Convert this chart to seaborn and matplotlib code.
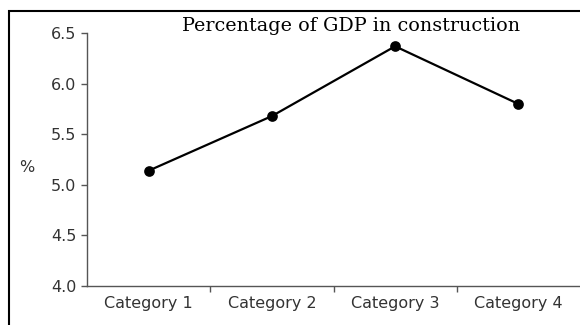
import seaborn as sns
import matplotlib.pyplot as plt
import pandas as pd
from matplotlib.patches import Rectangle

# dados
categorias = ["Category 1", "Category 2", "Category 3", "Category 4"]
valores = [5.14, 5.68, 6.37, 5.80]
titulo = "Percentage of GDP in construction"

dados = pd.DataFrame({"Categoria": categorias, "Valor": valores})

sns.set_style("ticks")
plt.rcParams['font.family'] = ['DejaVu Sans']

fig = plt.figure(figsize=(5.8, 3.25), dpi=100)
ax = fig.add_axes([0.150, 0.12, 0.850, 0.778])

sns.pointplot(data=dados, x="Categoria", y="Valor", color="black",
              markers="o", markersize=6.5, linewidth=1.6, ax=ax)

ax.set_ylim(4.0, 6.5)
ax.set_xlim(-0.5, 3.5)
ax.set_yticks([4.0, 4.5, 5.0, 5.5, 6.0, 6.5])
ax.set_yticklabels([f"{v:.1f}" for v in [4.0, 4.5, 5.0, 5.5, 6.0, 6.5]])
ax.set_xlabel("")
ax.set_ylabel("")

# marcas entre as categorias
ax.set_xticks([0.5, 1.5, 2.5], minor=True)
ax.tick_params(axis="x", which="major", length=0, pad=7, labelsize=11.5, labelcolor="#333333")
ax.tick_params(axis="x", which="minor", length=4, width=1, color="#555555")
ax.tick_params(axis="y", length=4, width=1, color="#555555", labelsize=11.5, labelcolor="#333333")

sns.despine(ax=ax)
for lado in ["left", "bottom"]:
    ax.spines[lado].set_color("#555555")
    ax.spines[lado].set_linewidth(1.0)

fig.text(27 / 580, 1 - 167 / 325, "%", fontsize=11.5, color="#333333", ha="center", va="center")
fig.text(351 / 580, 1 - 26 / 325, titulo, fontsize=13.8, family="DejaVu Serif",
         ha="center", va="center", color="black")

# moldura externa
fig.patches.append(Rectangle((9 / 580, -0.1), 1.2, 1 - 11 / 325 + 0.1,
                             transform=fig.transFigure, fill=False,
                             edgecolor="black", linewidth=1.5, figure=fig))

fig.savefig("out.png", dpi=100)
